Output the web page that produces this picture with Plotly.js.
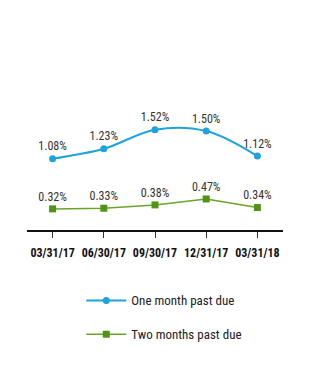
<!DOCTYPE html>
<html>
<head>
<meta charset="utf-8">
<script src="https://cdn.plot.ly/plotly-3.0.1.min.js"></script>
<style>html,body{margin:0;padding:0;background:#fff;}#chart{width:318px;height:369px;}</style>
</head>
<body>
<div id="chart"></div>
<script>
var categories = ["03/31/17", "06/30/17", "09/30/17", "12/31/17", "03/31/18"];
var oneMonth = [1.08, 1.23, 1.52, 1.50, 1.12];
var twoMonths = [0.32, 0.33, 0.38, 0.47, 0.34];
var seriesNames = ["One month past due", "Two months past due"];

var FONT = "'Liberation Sans Narrow', 'Arial Narrow', 'Roboto Condensed', 'Liberation Sans', Arial, sans-serif";
function pct(v){ return v.toFixed(2) + "%"; }

var traces = [
  {
    x: categories, y: oneMonth, name: seriesNames[0], type: "scatter",
    mode: "lines+markers+text", text: oneMonth.map(pct), textposition: "top center",
    textfont: {family: FONT, size: 12, color: "#333"},
    line: {color: "#1ea3dc", width: 2, shape: "spline", smoothing: 1},
    marker: {color: "#1ea3dc", size: 7, symbol: "circle"},
    legendgroup: "a", cliponaxis: false
  },
  {
    x: categories, y: twoMonths, name: seriesNames[1], type: "scatter",
    mode: "lines+markers+text", text: twoMonths.map(pct), textposition: "top center",
    textfont: {family: FONT, size: 12, color: "#333"},
    line: {color: "#6aa52a", width: 1.5},
    marker: {color: "#4f9415", size: 7, symbol: "square"},
    legendgroup: "b", cliponaxis: false
  }
];

var layout = {
  width: 318, height: 369,
  margin: {l: 27, r: 35, t: 98, b: 139},
  paper_bgcolor: "#fff", plot_bgcolor: "#fff",
  font: {family: FONT, color: "#222"},
  showlegend: true,
  xaxis: {
    type: "category", range: [-0.5, 4.5],
    showline: true, linecolor: "#111", linewidth: 2,
    ticks: "outside", ticklen: 6, tickcolor: "#333", tickwidth: 1,
    showgrid: false, zeroline: false,
    tickfont: {family: FONT, size: 12, color: "#111", weight: "bold"},
    ticklabelstandoff: 5
  },
  yaxis: {range: [0, 2.0], visible: false, showgrid: false, zeroline: false},
  legend: {
    orientation: "v", x: 0.212, xanchor: "left", y: -0.42, yanchor: "top",
    traceorder: "grouped", tracegroupgap: 14, itemwidth: 40,
    font: {family: FONT, size: 13, color: "#222"}
  }
};

Plotly.newPlot("chart", traces, layout, {displayModeBar: false, staticPlot: true});
</script>
</body>
</html>
